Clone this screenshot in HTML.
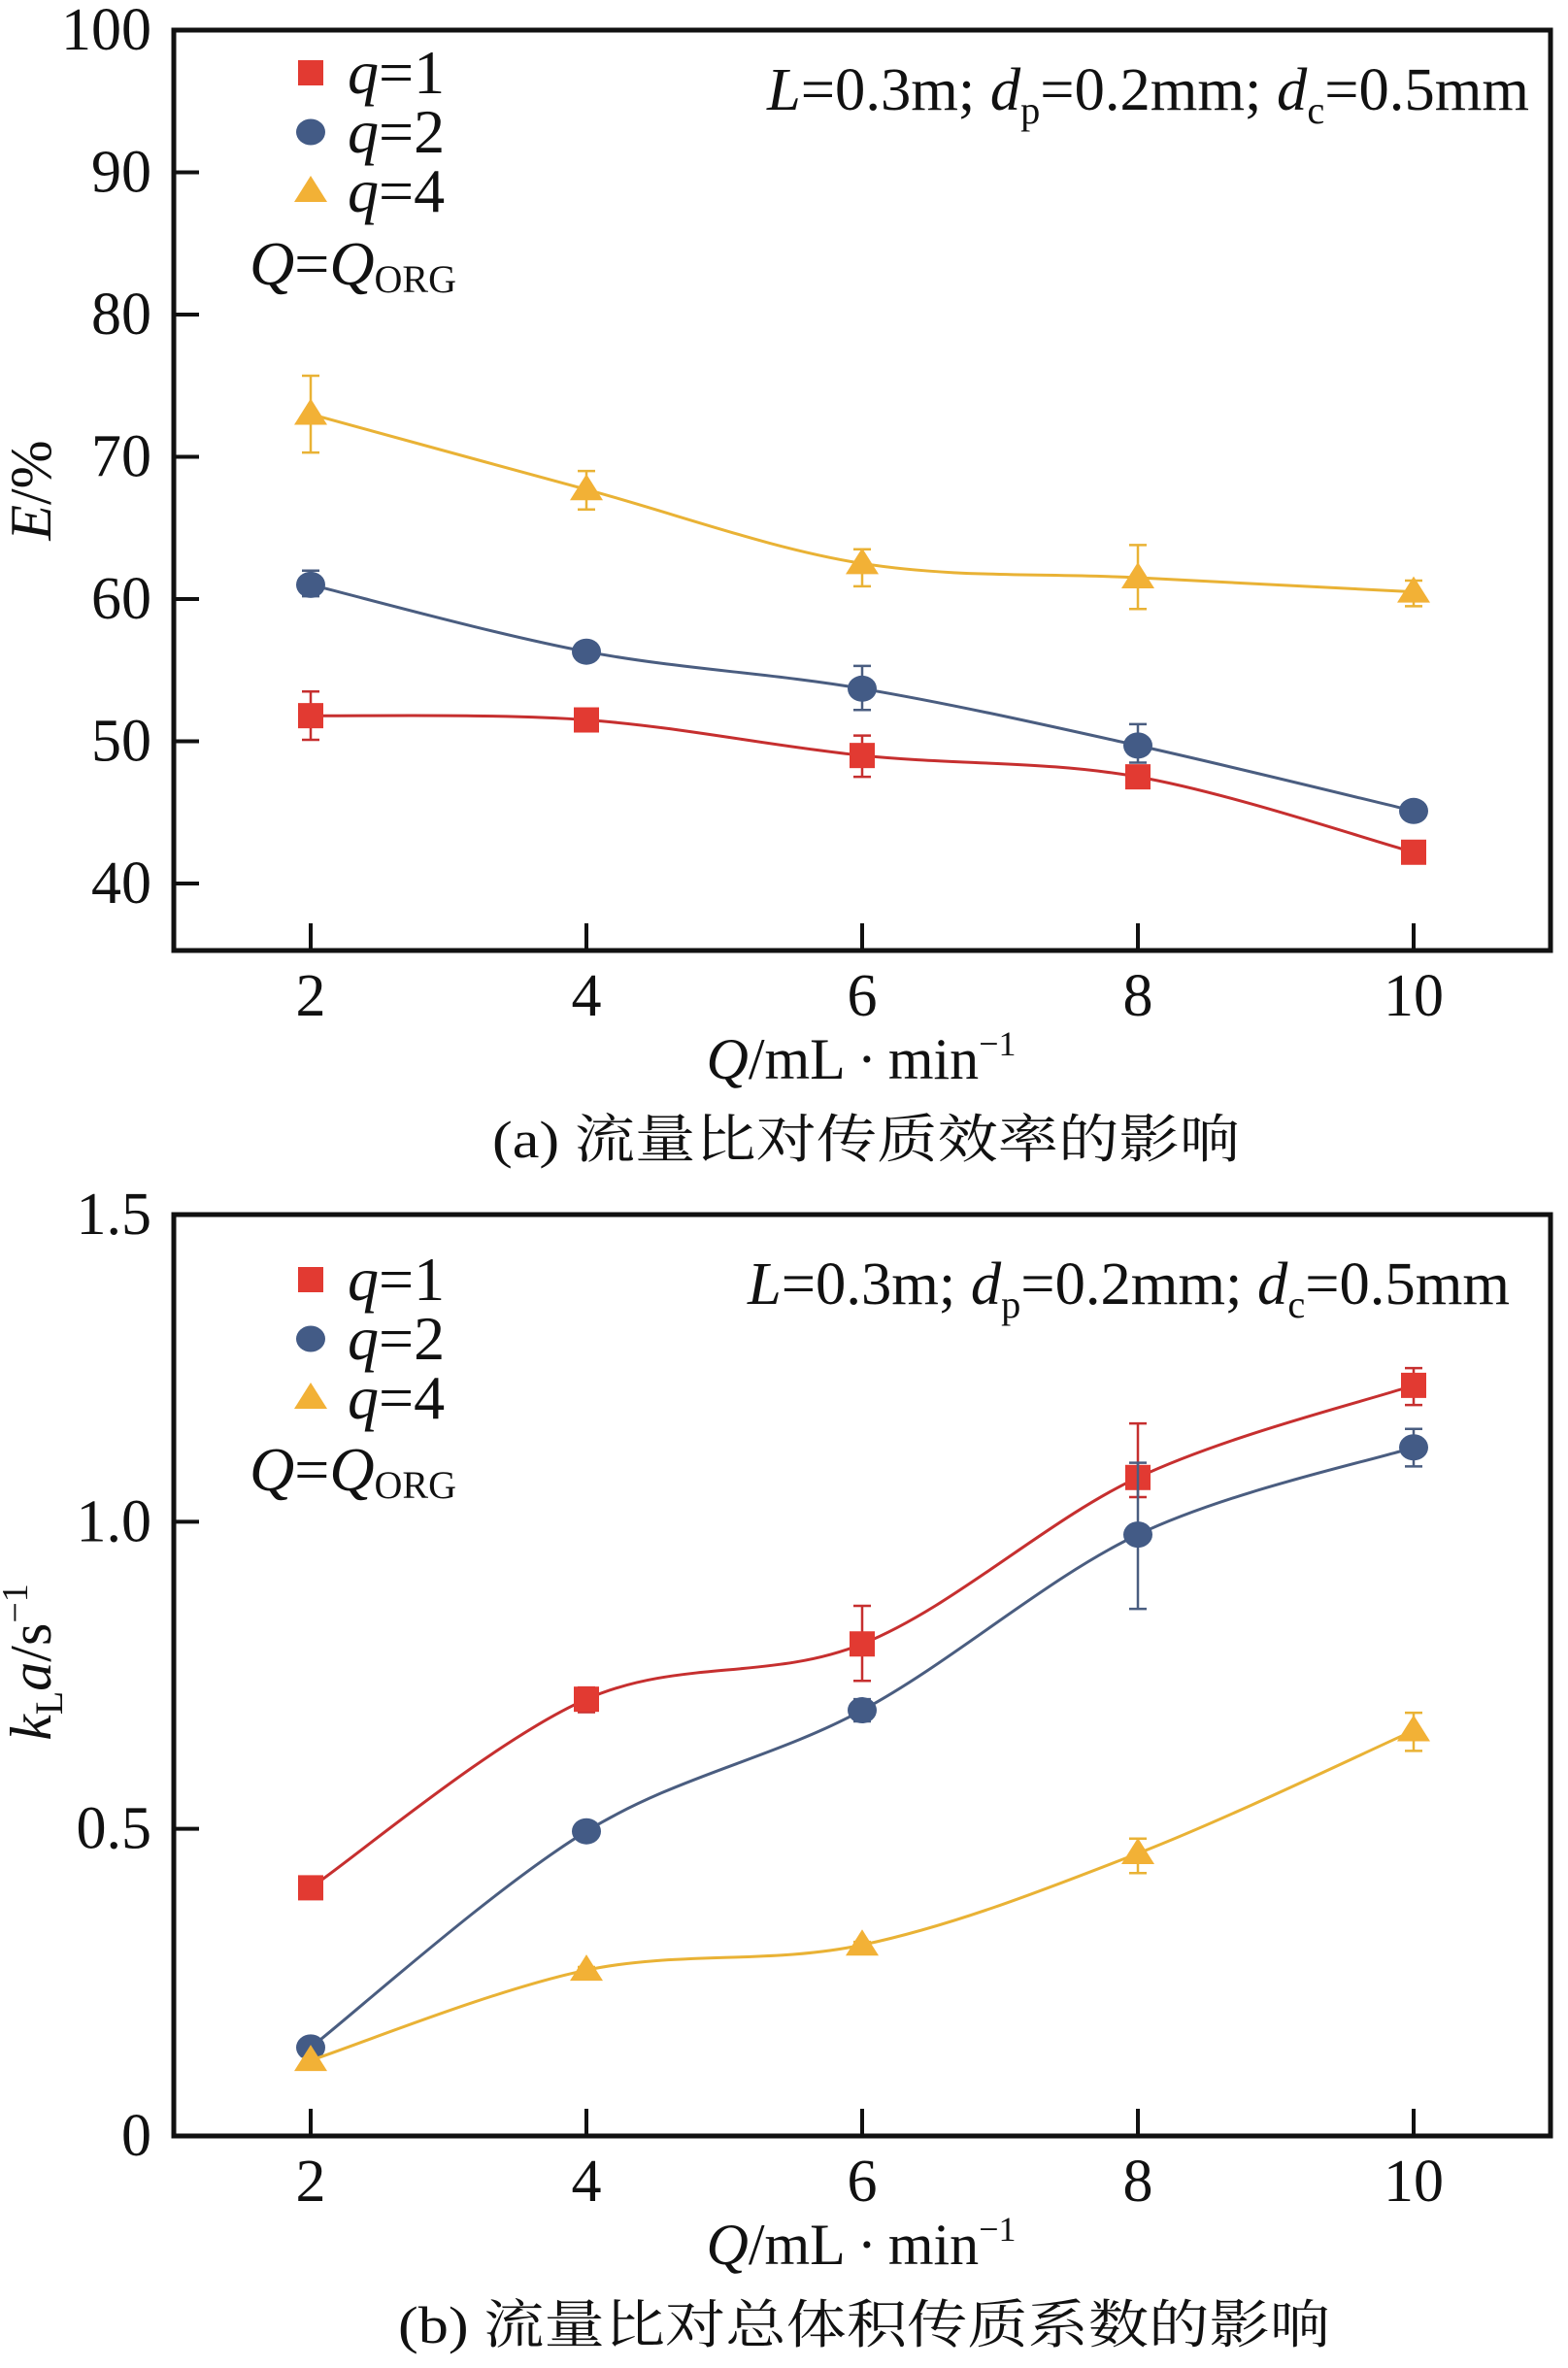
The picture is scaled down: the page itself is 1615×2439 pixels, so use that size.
<!DOCTYPE html>
<html><head><meta charset="utf-8"><style>
html,body{margin:0;padding:0;background:#fff;}
svg{display:block;}
text{font-family:"Liberation Serif","Noto Serif CJK SC",serif;fill:#111;}
.cjk{font-family:"Liberation Serif","Noto Serif CJK SC","Noto Sans CJK SC",serif;}
</style></head><body>
<svg id="chart" width="1615" height="2439" viewBox="0 0 1615 2439"></svg>
<script>
// ---------- data ----------
const xCats = [2, 4, 6, 8, 10];
const seriesNames = ["q=1", "q=2", "q=4"];
// chart (a): E/%
const aQ1 = [51.8, 51.5, 49.0, 47.5, 42.2];
const aQ1Lo = [50.1, 51.2, 47.5, 47.2, 42.0];
const aQ1Hi = [53.5, 51.8, 50.4, 47.8, 42.4];
const aQ2 = [61.0, 56.3, 53.7, 49.7, 45.1];
const aQ2Lo = [60.2, 56.1, 52.2, 48.5, 44.8];
const aQ2Hi = [62.0, 56.5, 55.3, 51.2, 45.4];
const aQ4 = [73.0, 67.7, 62.5, 61.5, 60.5];
const aQ4Lo = [70.3, 66.3, 60.9, 59.3, 59.5];
const aQ4Hi = [75.7, 69.0, 63.5, 63.8, 61.3];
const aYTicks = [40, 50, 60, 70, 80, 90, 100];
const aYLabels = ["40", "50", "60", "70", "80", "90", "100"];
// chart (b): kLa/s^-1
const bQ1 = [0.404, 0.711, 0.801, 1.072, 1.222];
const bQ1Lo = [0.400, 0.690, 0.741, 1.040, 1.190];
const bQ1Hi = [0.408, 0.730, 0.863, 1.160, 1.250];
const bQ2 = [0.144, 0.496, 0.693, 0.979, 1.121];
const bQ2Lo = [0.140, 0.492, 0.675, 0.858, 1.090];
const bQ2Hi = [0.148, 0.500, 0.711, 1.096, 1.151];
const bQ4 = [0.123, 0.270, 0.311, 0.460, 0.660];
const bQ4Lo = [0.120, 0.265, 0.306, 0.428, 0.627];
const bQ4Hi = [0.126, 0.275, 0.316, 0.484, 0.689];
const bYTicks = [0, 0.5, 1.0, 1.5];
const bYLabels = ["0", "0.5", "1.0", "1.5"];
const xLabels = ["2", "4", "6", "8", "10"];

const NS = "http://www.w3.org/2000/svg";
const svg = document.getElementById("chart");
const COL = {fill:["#e23a32","#435b86","#f2b136"], line:["#c62f2f","#4a5d80","#e9b235"]};

function el(tag, attrs, parent, txt){
  const e = document.createElementNS(NS, tag);
  for (const k in attrs) e.setAttribute(k, attrs[k]);
  if (txt !== undefined) e.textContent = txt;
  (parent || svg).appendChild(e);
  return e;
}
function smooth(pts){
  let d = "M" + pts[0][0] + "," + pts[0][1];
  for (let i = 0; i < pts.length - 1; i++){
    const p0 = pts[i-1] || pts[i], p1 = pts[i], p2 = pts[i+1], p3 = pts[i+2] || p2;
    const c1x = p1[0] + (p2[0]-p0[0])/6, c1y = p1[1] + (p2[1]-p0[1])/6;
    const c2x = p2[0] - (p3[0]-p1[0])/6, c2y = p2[1] - (p3[1]-p1[1])/6;
    d += " C" + c1x + "," + c1y + " " + c2x + "," + c2y + " " + p2[0] + "," + p2[1];
  }
  return d;
}
function drawMarker(parent, si, x, y){
  let m;
  if (si === 0) m = el("rect", {x:x-13, y:y-13, width:26, height:26, fill:COL.fill[0]}, parent);
  else if (si === 1) m = el("ellipse", {cx:x, cy:y, rx:15, ry:13.5, fill:COL.fill[1]}, parent);
  else m = el("path", {d:"M"+x+","+(y-16)+"L"+(x+17)+","+(y+11)+"L"+(x-17)+","+(y+11)+"Z", fill:COL.fill[2]}, parent);
  
  
}

function drawPanel(cfg){
  const g = el("g", {});
  
  
  const L = 179, R = 1597, T = cfg.top, B = cfg.bottom;
  const xs = v => 320 + (v - 2) * (1456 - 320) / 8;
  const ys = v => cfg.yBotPix + (v - cfg.ymin) / (cfg.ymax - cfg.ymin) * (cfg.yTopPix - cfg.yBotPix);
  const fr = el("rect", {x:L, y:T, width:R-L, height:B-T, fill:"none", stroke:"#111", "stroke-width":5}, g);
  
  
  cfg.yTicks.forEach((t, i) => {
    const y = ys(t);
    const tk = el("line", {x1:L, x2:L+26, y1:y, y2:y, stroke:"#111", "stroke-width":4}, g);
    
    
    const lb = el("text", {x:156, y:y+20, "text-anchor":"end", "font-size":62}, g, cfg.yLabels[i]);
    
    
  });
  xCats.forEach((c, i) => {
    const x = xs(c);
    const tk = el("line", {x1:x, x2:x, y1:B, y2:B-28, stroke:"#111", "stroke-width":4}, g);
    
    
    const lb = el("text", {x:x, y:B+67, "text-anchor":"middle", "font-size":62}, g, xLabels[i]);
    
    
  });
  const xt = el("text", {x:887, y:B+132, "text-anchor":"middle", "font-size":60}, g);
  
  
  el("tspan", {"font-style":"italic"}, xt, "Q");
  el("tspan", {}, xt, "/mL\u2009\u00b7\u2009min");
  el("tspan", {dy:-24, "font-size":36}, xt, "\u22121");
  const cp = el("text", {x:cfg.capX, y:B+213, "text-anchor":"middle", "font-size":54, class:"cjk", textLength:cfg.capLen, lengthAdjust:"spacingAndGlyphs"}, g, cfg.caption);
  
  
  const yt = el("text", {transform:"translate(52," + cfg.yTitleY + ") rotate(-90)", "text-anchor":"middle", "font-size":60}, g);
  
  
  cfg.yTitle(yt);
  const an = el("text", {x:cfg.annX, y:T+cfg.annDy, "text-anchor":"end", "font-size":62, textLength:cfg.annLen, lengthAdjust:"spacingAndGlyphs"}, g);
  
  
  el("tspan", {"font-style":"italic"}, an, "L");
  el("tspan", {}, an, "=0.3m; ");
  el("tspan", {"font-style":"italic"}, an, "d");
  el("tspan", {dy:14, "font-size":40}, an, "p");
  el("tspan", {dy:-14}, an, "=0.2mm; ");
  el("tspan", {"font-style":"italic"}, an, "d");
  el("tspan", {dy:14, "font-size":40}, an, "c");
  el("tspan", {dy:-14}, an, "=0.5mm");
  cfg.series.forEach((s, si) => {
    const sg = el("g", {}, g);
    
    
    const pts = xCats.map((c, i) => [xs(c), ys(s.v[i])]);
    const ln = el("path", {d:smooth(pts), fill:"none", stroke:COL.line[si], "stroke-width":3}, sg);
    
    
    xCats.forEach((c, i) => {
      const x = xs(c), yl = ys(s.lo[i]), yh = ys(s.hi[i]);
      const eb = el("path", {d:"M"+x+","+yl+"V"+yh+"M"+(x-9)+","+yl+"H"+(x+9)+"M"+(x-9)+","+yh+"H"+(x+9), stroke:COL.line[si], "stroke-width":2.5, fill:"none"}, sg);
      
      
      drawMarker(sg, si, x, ys(s.v[i]));
    });
  });
  const lg = el("g", {}, g);
  
  
  seriesNames.forEach((n, i) => {
    const y = T + cfg.legDy + i * 61;
    drawMarker(lg, i, 320, y);
    const t = el("text", {x:358, y:y+21, "font-size":64}, lg);
    
    
    el("tspan", {"font-style":"italic"}, t, "q");
    el("tspan", {}, t, n.slice(1));
  });
  const qt = el("text", {x:257, y:T+cfg.qDy, "font-size":64}, lg);
  
  
  el("tspan", {"font-style":"italic"}, qt, "Q");
  el("tspan", {}, qt, "=");
  el("tspan", {"font-style":"italic"}, qt, "Q");
  el("tspan", {dy:8, "font-size":40}, qt, "ORG");
}

drawPanel({
  name:"panel-a-efficiency", top:31, bottom:979, ymin:40, ymax:100, yTopPix:31, yBotPix:910,
  yTicks:aYTicks, yLabels:aYLabels, yTitleY:505, legDy:44, qDy:262, annDy:82, annX:1575, annLen:785,
  caption:"(a) 流量比对传质效率的影响", capLen:770, capX:892,
  yTitle: t => { el("tspan", {"font-style":"italic"}, t, "E"); el("tspan", {}, t, "/%"); },
  series:[{v:aQ1, lo:aQ1Lo, hi:aQ1Hi},{v:aQ2, lo:aQ2Lo, hi:aQ2Hi},{v:aQ4, lo:aQ4Lo, hi:aQ4Hi}]
});
drawPanel({
  name:"panel-b-mass-transfer-coefficient", top:1251, bottom:2200, ymin:0, ymax:1.5, yTopPix:1251, yBotPix:2200,
  yTicks:bYTicks, yLabels:bYLabels, yTitleY:1712, legDy:67, qDy:284, annDy:92, annX:1555, annLen:785,
  caption:"(b) 流量比对总体积传质系数的影响", capLen:960, capX:890,
  yTitle: t => {
    el("tspan", {"font-style":"italic"}, t, "k");
    el("tspan", {dy:12, "font-size":40}, t, "L");
    el("tspan", {dy:-12, "font-style":"italic"}, t, "a");
    el("tspan", {}, t, "/s");
    el("tspan", {dy:-24, "font-size":38}, t, "\u22121");
  },
  series:[{v:bQ1, lo:bQ1Lo, hi:bQ1Hi},{v:bQ2, lo:bQ2Lo, hi:bQ2Hi},{v:bQ4, lo:bQ4Lo, hi:bQ4Hi}]
});
</script>
</body></html>
